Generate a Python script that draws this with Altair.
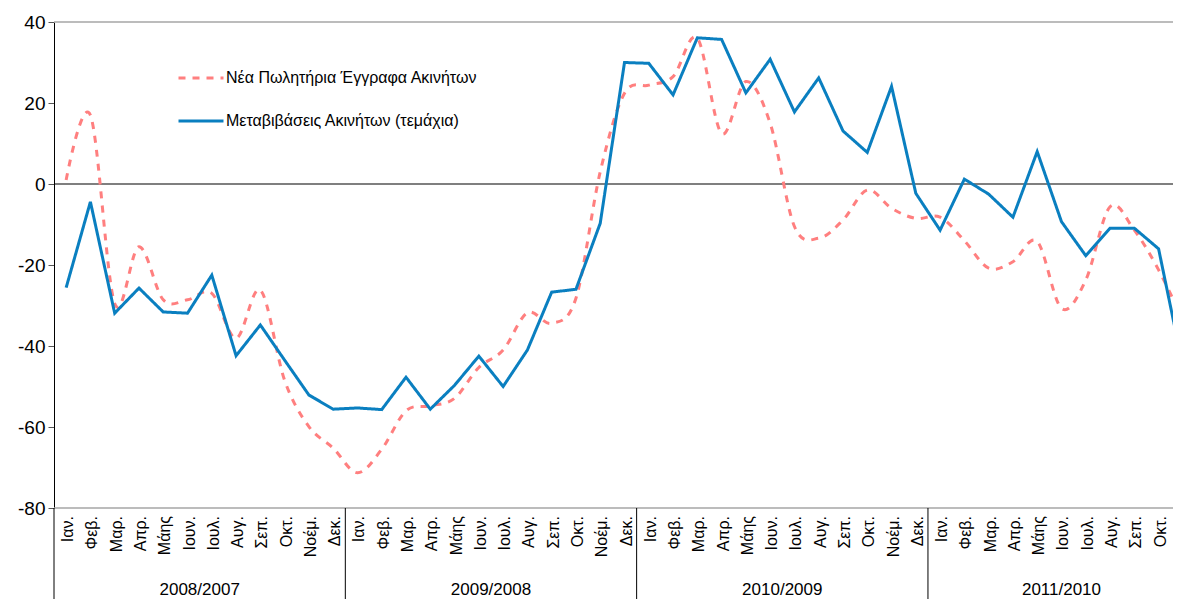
import altair as alt
import pandas as pd

FONT = "Liberation Sans"

months = ["Ιαν.", "Φεβ.", "Μαρ.", "Απρ.", "Μάης", "Ιουν.", "Ιουλ.", "Αυγ.", "Σεπ.", "Οκτ.", "Νοέμ.", "Δεκ."]
years = ["2008/2007", "2009/2008", "2010/2009", "2011/2010"]

S1 = "Νέα Πωλητήρια Έγγραφα Ακινήτων"
S2 = "Μεταβιβάσεις Ακινήτων (τεμάχια)"

sales_docs = [1.0, 17.0, -29.5, -15.5, -28.6, -28.6, -27.0, -38.1, -26.2, -48.5, -59.9, -65.2,
              -71.3, -65.5, -56.0, -54.8, -52.9, -45.3, -41.0, -31.8, -34.4, -28.2, 3.0, 22.4,
              24.4, 26.5, 36.0, 12.5, 25.3, 15.0, -10.5, -13.4, -8.9, -1.5, -6.0, -8.5,
              -8.2, -14.0, -20.8, -19.2, -14.2, -30.7, -23.7, -5.6, -11.4, -21.2, -33.6]

transfers = [-25.6, -4.4, -31.9, -25.7, -31.6, -31.9, -22.5, -42.4, -34.8, -43.5, -52.1, -55.6,
             -55.3, -55.7, -47.7, -55.6, -49.7, -42.5, -50.0, -41.0, -26.7, -26.0, -9.7, 30.0,
             29.8, 22.0, 36.1, 35.7, 22.5, 30.8, 17.8, 26.2, 13.1, 7.8, 24.1, -2.3,
             -11.4, 1.2, -2.5, -8.2, 8.0, -9.3, -17.7, -10.9, -10.9, -16.0, -45.0]

n = len(transfers)
idx = list(range(n))

df_red = pd.DataFrame({"idx": idx, "value": sales_docs, "series": S1})
df_blue = pd.DataFrame({"idx": idx, "value": transfers, "series": S2})
month_df = pd.DataFrame({"idx": idx, "label": [months[i % 12] for i in idx]})
starts = [12 * k for k in range(len(years))]
year_df = pd.DataFrame({"year": years,
                        "center": [(s + min(s + 11, n - 1)) / 2 for s in starts]})
sep_df = pd.DataFrame({"pos": [s - 0.5 for s in starts]})
border_df = pd.DataFrame({"v": [40, -80]})
zero_df = pd.DataFrame({"v": [0]})

xscale = alt.Scale(domain=[-0.5, n - 0.5], range=[0, 1141], nice=False, zero=False)
yscale = alt.Scale(domain=[-80, 40], nice=False, zero=False)

yaxis = alt.Axis(values=[-80, -60, -40, -20, 0, 20, 40], labelExpr="'' + datum.value",
                 labelFont=FONT, labelFontSize=19, labelColor="#000000", labelPadding=3,
                 tickSize=6, tickColor="#555555", domainColor="#000000", domainWidth=1,
                 grid=False, title=None)

leg = alt.Legend(title=None, orient="none", legendX=123, legendY=32, symbolType="stroke",
                 symbolSize=2025, symbolStrokeWidth=3, labelFont=FONT, labelFontSize=16,
                 labelColor="#000000", rowPadding=11, labelOffset=1, labelLimit=0, padding=0)

color = alt.Color("series:N", scale=alt.Scale(domain=[S1, S2], range=["#FF7F7F", "#0A7FC0"]), legend=leg)
dash = alt.StrokeDash("series:N", scale=alt.Scale(domain=[S1, S2], range=[[7, 7], [1, 0]]), legend=leg)

borders = alt.Chart(border_df).mark_rule(color="#A6A6A6", strokeWidth=1.5).encode(
    y=alt.Y("v:Q", scale=yscale, axis=yaxis))
zero = alt.Chart(zero_df).mark_rule(color="#000000", strokeWidth=1.2).encode(
    y=alt.Y("v:Q", scale=yscale))

red = alt.Chart(df_red).mark_line(interpolate="cardinal", strokeWidth=3, clip=True).encode(
    x=alt.X("idx:Q", scale=xscale, axis=None),
    y=alt.Y("value:Q", scale=yscale),
    color=color, strokeDash=dash)
blue = alt.Chart(df_blue).mark_line(strokeWidth=3, clip=True).encode(
    x=alt.X("idx:Q", scale=xscale, axis=None),
    y=alt.Y("value:Q", scale=yscale),
    color=color, strokeDash=dash)

month_text = alt.Chart(month_df).mark_text(angle=270, align="right", baseline="middle",
                                           fontSize=16, font=FONT, color="#000000", dy=2).encode(
    x=alt.X("idx:Q", scale=xscale, axis=None), y=alt.value(494), text="label:N")

year_text = alt.Chart(year_df).mark_text(fontSize=17, font=FONT, color="#000000", baseline="middle").encode(
    x=alt.X("center:Q", scale=xscale, axis=None), y=alt.value(568), text="year:N")

seps = alt.Chart(sep_df).mark_rule(color="#000000", strokeWidth=1).encode(
    x=alt.X("pos:Q", scale=xscale, axis=None), y=alt.value(486), y2=alt.value(600))

chart = alt.layer(borders, zero, red, blue, seps, month_text, year_text).properties(
    width=1119, height=486,
    padding={"left": 46, "top": 14, "right": 0, "bottom": 91},
    autosize=alt.AutoSizeParams(type="none"),
).configure_view(stroke=None)

chart.save("out.html", embed_options={"renderer": "svg", "actions": False})
